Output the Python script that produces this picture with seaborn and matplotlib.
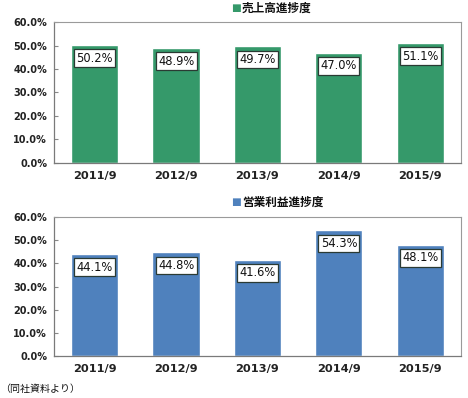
import numpy as np
import pandas as pd
import seaborn as sns
from matplotlib import pyplot as plt
from matplotlib.ticker import FixedLocator

years = ['2011/9', '2012/9', '2013/9', '2014/9', '2015/9']
sales_progress = [50.2, 48.9, 49.7, 47.0, 51.1]
profit_progress = [44.1, 44.8, 41.6, 54.3, 48.1]
sales_title = '売上高進捗度'
profit_title = '営業利益進捗度'
note = '（同社資料より）'

sns.set_theme(style='white')
plt.rcParams['font.family'] = ['DejaVu Sans', 'Noto Sans CJK JP']

fig = plt.figure(figsize=(4.68, 3.98), dpi=100)
ax1 = fig.add_axes([0.1154, 0.5905, 0.8696, 0.3542])
ax2 = fig.add_axes([0.1154, 0.1055, 0.8696, 0.3493])


def draw(ax, vals, color, title, title_y):
    df = pd.DataFrame({'year': years, 'val': vals})
    sns.barplot(data=df, x='year', y='val', color=color, saturation=1,
                width=0.58, ax=ax)
    ax.set_ylim(0, 60)
    ax.set_xlim(-0.5, len(years) - 0.5)
    ax.set_yticks(np.arange(0, 61, 10))
    ax.set_yticklabels([f'{t:.1f}%' for t in range(0, 61, 10)],
                       fontsize=7, fontweight='bold', color='#222222')
    ax.set_xticks(range(len(years)))
    ax.set_xticklabels(years, fontsize=8.2, fontweight='bold', color='#222222')
    ax.xaxis.set_minor_locator(FixedLocator(np.arange(0.5, len(years) - 1, 1)))
    ax.tick_params(axis='x', which='major', length=0, pad=6)
    ax.tick_params(axis='x', which='minor', direction='in', length=3,
                   color='#888888', width=0.8)
    ax.tick_params(axis='y', direction='in', length=3, color='#888888',
                   width=0.8, pad=5, left=True)
    ax.set_xlabel('')
    ax.set_ylabel('')
    for s in ['top', 'right']:
        ax.spines[s].set_color('#9a9a9a')
        ax.spines[s].set_linewidth(0.8)
    for s in ['left', 'bottom']:
        ax.spines[s].set_color('#7a7a7a')
        ax.spines[s].set_linewidth(0.9)
    for i, v in enumerate(vals):
        ax.annotate(f'{v:.1f}%', xy=(i, v), xytext=(0, -9.5),
                    textcoords='offset points', ha='center', va='center',
                    fontsize=8.3, color='#111111',
                    bbox=dict(boxstyle='square,pad=0.2', fc='white',
                              ec='#2a3a33', lw=0.9))
    fig.text(241 / 468, title_y, '■', ha='right', va='center',
             fontsize=7.5, color=color)
    fig.text(242 / 468, title_y, title, ha='left', va='center',
             fontsize=8.4, fontweight='bold', color='#111111')


draw(ax1, sales_progress, '#35996a', sales_title, 1 - 8 / 398)
draw(ax2, profit_progress, '#4f81bd', profit_title, 1 - 202 / 398)

fig.text(0.0, 1 - 389 / 398, note, ha='left', va='center', fontsize=7.2,
         color='#111111')

fig.savefig('out.png', dpi=100)
